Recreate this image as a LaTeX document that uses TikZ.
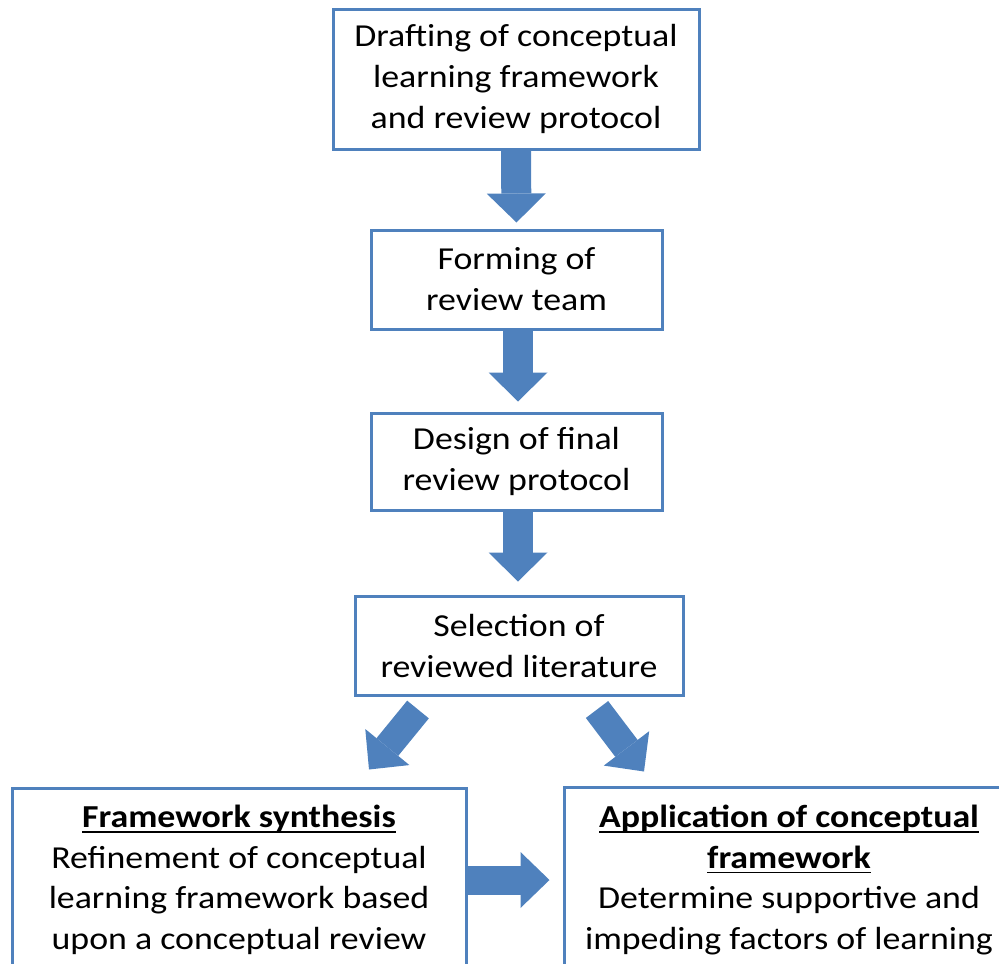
\documentclass[tikz,border=0pt]{standalone}
\usepackage{fontspec}
\setmainfont{Carlito}[FakeStretch=1.12]
\usetikzlibrary{arrows.meta,calc}
\definecolor{offblue}{HTML}{4F81BD}
\newsavebox\myulbox
\newcommand\myul[1]{\sbox\myulbox{#1}\rlap{\rule[-5pt]{\wd\myulbox}{1.6pt}}\usebox\myulbox}
\begin{document}
\begin{tikzpicture}[x=1pt,y=-1pt,
  box/.style={draw=offblue, line width=3pt, fill=white, align=center, inner sep=0pt,
    font=\fontsize{32pt}{41pt}\selectfont},
  lowbox/.style={box, font=\fontsize{32pt}{40.5pt}\selectfont},
  blockarrow/.style={draw=offblue, line width=30pt,
    -{Triangle[length=29pt,width=59pt,line width=0pt]}},
  diagarrow/.style={draw=offblue, line width=28pt,
    -{Triangle[length=29pt,width=57pt,line width=0pt]}}]
\useasboundingbox (0,0) rectangle (999,964);
\clip (0,0) rectangle (999,964);
\node[box, minimum width=366pt, minimum height=140pt] (b1) at (516,79)
  {Drafting of conceptual\\learning framework\\and review protocol};
\node[box, minimum width=291pt, minimum height=99pt] (b2) at (516.5,279.5)
  {Forming of\\review team};
\node[box, minimum width=291pt, minimum height=97pt] (b3) at (516.5,461.5)
  {Design of final\\review protocol};
\node[box, minimum width=328pt, minimum height=99pt] (b4) at (519,645.5)
  {Selection of\\reviewed literature};
\node[lowbox, minimum width=454pt, minimum height=184pt] (b5) at (239,880)
  {\textbf{\myul{Framework synthesis}}\\Refinement of conceptual\\learning framework based\\upon a conceptual review};
\node[lowbox, minimum width=450pt, minimum height=186pt] (b6) at (789,880)
  {\textbf{\myul{Application of conceptual}}\\\textbf{\myul{framework}}\\Determine supportive and\\impeding factors of learning};
\draw[blockarrow, shorten >=6pt] (b1.south) -- (b2.north);
\draw[blockarrow, shorten >=10pt] ($(b2.south)+(1.5,0)$) -- ($(b3.north)+(1.5,0)$);
\draw[blockarrow, shorten >=13pt] ($(b3.south)+(1.5,0)$) -- ($(b4.north)+(-1,0)$);
\coordinate (dl) at ($(b5.north)+(130,-17)$);
\coordinate (dr) at ($(b6.north)+(-145,-14)$);
\draw[diagarrow] ($(b4.south)+(-101,13)$) -- (dl);
\draw[diagarrow] ($(b4.south)+(78,13)$) -- (dr);
\draw[blockarrow, line width=29pt, -{Triangle[length=29pt,width=56pt,line width=0pt]}, shorten >=13pt] (b5.east) -- (b6.west);
\end{tikzpicture}
\end{document}
